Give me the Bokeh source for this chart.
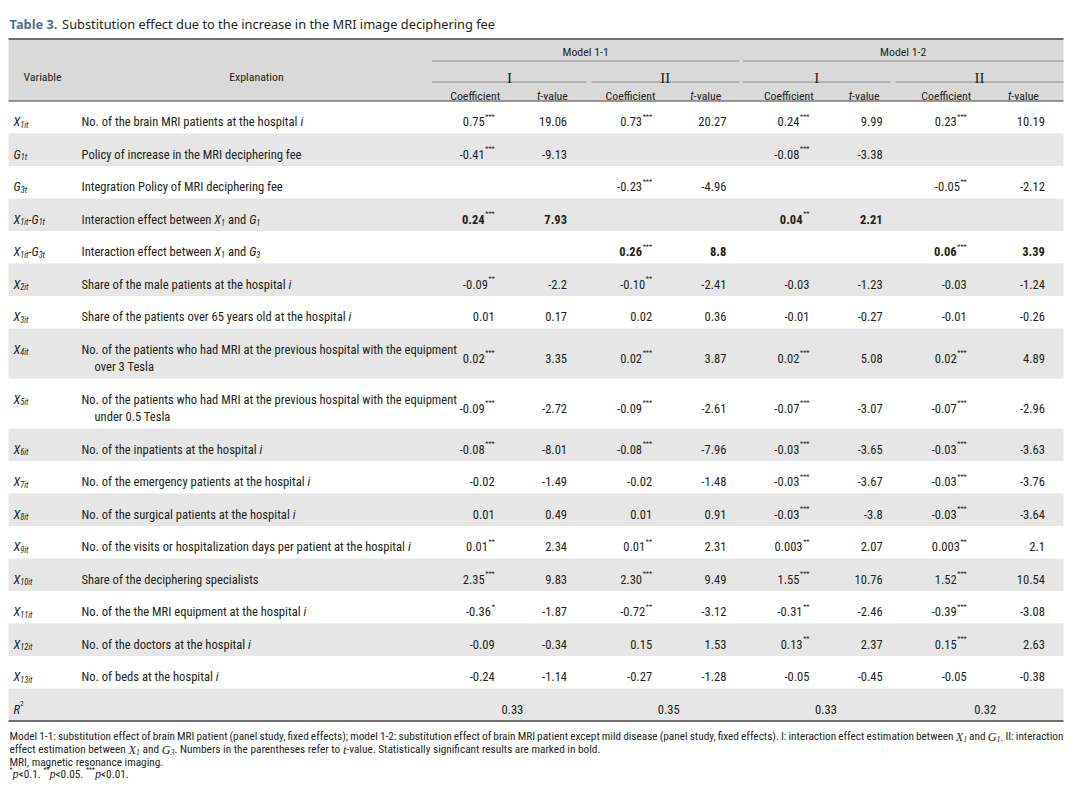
import glob
import os
from collections import OrderedDict
from bokeh.plotting import figure
from bokeh.models import Range1d, ColumnDataSource
from bokeh.core.properties import value
from bokeh.embed import file_html
from bokeh.resources import INLINE

# ---------------------------------------------------------------- data
title_label = "Table 3."
title_text = "Substitution effect due to the increase in the MRI image deciphering fee"

model_names = ["Model 1-1", "Model 1-2"]
spec_names = ["I", "II", "I", "II"]
stat_names = ["Coefficient", "i:t|-value"]
head_variable = "Variable"
head_explanation = "Explanation"

# markup: pieces split by "|" ; i: italic, s: italic subscript, p: superscript, r/q: serif italic / its subscript
variables = [
    "i:X|s:1it", "i:G|s:1t", "i:G|s:3t", "i:X|s:1it|i:-|i:G|s:1t", "i:X|s:1it|i:-|i:G|s:3t",
    "i:X|s:2it", "i:X|s:3it", "i:X|s:4it", "i:X|s:5it", "i:X|s:6it", "i:X|s:7it",
    "i:X|s:8it", "i:X|s:9it", "i:X|s:10it", "i:X|s:11it", "i:X|s:12it", "i:X|s:13it",
    "i:R|p:2",
]
explanations = [
    ["No. of the brain MRI patients at the hospital |i:i"],
    ["Policy of increase in the MRI deciphering fee"],
    ["Integration Policy of MRI deciphering fee"],
    ["Interaction effect between |i:X|s:1| and |i:G|s:1"],
    ["Interaction effect between |i:X|s:1| and |i:G|s:3"],
    ["Share of the male patients at the hospital |i:i"],
    ["Share of the patients over 65 years old at the hospital |i:i"],
    ["No. of the patients who had MRI at the previous hospital with the equipment", "over 3 Tesla"],
    ["No. of the patients who had MRI at the previous hospital with the equipment", "under 0.5 Tesla"],
    ["No. of the inpatients at the hospital |i:i"],
    ["No. of the emergency patients at the hospital |i:i"],
    ["No. of the surgical patients at the hospital |i:i"],
    ["No. of the visits or hospitalization days per patient at the hospital |i:i"],
    ["Share of the deciphering specialists"],
    ["No. of the the MRI equipment at the hospital |i:i"],
    ["No. of the doctors at the hospital |i:i"],
    ["No. of beds at the hospital |i:i"],
    [""],
]

coef_11_I = ["0.75", "-0.41", "", "0.24", "", "-0.09", "0.01", "0.02", "-0.09", "-0.08", "-0.02", "0.01", "0.01", "2.35", "-0.36", "-0.09", "-0.24"]
sig_11_I = [3, 3, 0, 3, 0, 2, 0, 3, 3, 3, 0, 0, 2, 3, 1, 0, 0]
t_11_I = ["19.06", "-9.13", "", "7.93", "", "-2.2", "0.17", "3.35", "-2.72", "-8.01", "-1.49", "0.49", "2.34", "9.83", "-1.87", "-0.34", "-1.14"]

coef_11_II = ["0.73", "", "-0.23", "", "0.26", "-0.10", "0.02", "0.02", "-0.09", "-0.08", "-0.02", "0.01", "0.01", "2.30", "-0.72", "0.15", "-0.27"]
sig_11_II = [3, 0, 3, 0, 3, 2, 0, 3, 3, 3, 0, 0, 2, 3, 2, 0, 0]
t_11_II = ["20.27", "", "-4.96", "", "8.8", "-2.41", "0.36", "3.87", "-2.61", "-7.96", "-1.48", "0.91", "2.31", "9.49", "-3.12", "1.53", "-1.28"]

coef_12_I = ["0.24", "-0.08", "", "0.04", "", "-0.03", "-0.01", "0.02", "-0.07", "-0.03", "-0.03", "-0.03", "0.003", "1.55", "-0.31", "0.13", "-0.05"]
sig_12_I = [3, 3, 0, 2, 0, 0, 0, 3, 3, 3, 3, 3, 2, 3, 2, 2, 0]
t_12_I = ["9.99", "-3.38", "", "2.21", "", "-1.23", "-0.27", "5.08", "-3.07", "-3.65", "-3.67", "-3.8", "2.07", "10.76", "-2.46", "2.37", "-0.45"]

coef_12_II = ["0.23", "", "-0.05", "", "0.06", "-0.03", "-0.01", "0.02", "-0.07", "-0.03", "-0.03", "-0.03", "0.003", "1.52", "-0.39", "0.15", "-0.05"]
sig_12_II = [3, 0, 2, 0, 3, 0, 0, 3, 3, 3, 3, 3, 2, 3, 3, 3, 0]
t_12_II = ["10.19", "", "-2.12", "", "3.39", "-1.24", "-0.26", "4.89", "-2.96", "-3.63", "-3.76", "-3.64", "2.1", "10.54", "-3.08", "2.63", "-0.38"]

bold_rows = [3, 4]
r_squared = ["0.33", "0.35", "0.33", "0.32"]

notes = [
    "Model 1-1: substitution effect of brain MRI patient (panel study, fixed effects); model 1-2: substitution effect of brain MRI patient except mild disease (panel study, fixed effects). I: interaction effect estimation between |r:X|q:1| and |r:G|q:1|. II: interaction",
    "effect estimation between |r:X|q:1| and |r:G|q:3|. Numbers in the parentheses refer to |r:t|-value. Statistically significant results are marked in bold.",
    "MRI, magnetic resonance imaging.",
    "p:*|r:p|<0.1. |p:**|r:p|<0.05. |p:***|r:p|<0.01.",
]

# ---------------------------------------------------------------- fonts / measuring
FONT_INDEX = {}
for d in ["/usr/share/fonts", "/usr/local/share/fonts",
          os.path.expanduser("~/.fonts"), os.path.expanduser("~/.local/share/fonts")]:
    for f in glob.glob(os.path.join(d, "**", "*"), recursive=True):
        b = os.path.basename(f)
        if b.lower().endswith((".ttf", ".otf")):
            FONT_INDEX.setdefault(b, f)


def ff(*names):
    for n in names:
        if n in FONT_INDEX:
            return FONT_INDEX[n]
    return None


SANS = "Roboto Condensed"
SERIF = "Liberation Serif"
TITLE_FONT = "Noto Sans"
FILES = {
    SANS: {"normal": ff("RobotoCondensed-Regular.ttf", "RobotoCondensed[wght].ttf"),
           "italic": ff("RobotoCondensed-Italic.ttf", "RobotoCondensed-Italic[wght].ttf"),
           "bold": ff("RobotoCondensed-Bold.ttf"),
           "bold italic": ff("RobotoCondensed-BoldItalic.ttf")},
    SERIF: {"normal": ff("LiberationSerif-Regular.ttf"), "italic": ff("LiberationSerif-Italic.ttf")},
    TITLE_FONT: {"normal": ff("NotoSans-Regular.ttf", "NotoSans[wdth,wght].ttf"),
                 "bold": ff("NotoSans-Bold.ttf")},
}

try:
    from PIL import ImageFont
except Exception:
    ImageFont = None

_cache = {}


def measure(text, size, family, style):
    if not text:
        return 0.0
    files = FILES.get(family, {})
    path = files.get(style)
    factor = 1.0
    if not path:
        path = files.get("normal")
        if "bold" in style:
            factor = 1.06
    if ImageFont is not None and path:
        if path not in _cache:
            _cache[path] = ImageFont.truetype(path, 100)
        return _cache[path].getlength(text) * size / 100.0 * factor
    return len(text) * size * 0.45 * factor


# ---------------------------------------------------------------- figure
W, H = 1064, 780
p = figure(width=W, height=H, x_range=Range1d(0, W), y_range=Range1d(H, 0),
           output_backend="svg", toolbar_location=None, min_border=0)
p.xaxis.visible = False
p.yaxis.visible = False
p.xgrid.visible = False
p.ygrid.visible = False
p.outline_line_color = None
p.background_fill_color = "white"
p.border_fill_color = "white"

TXT = "#231f20"
HEAD_BG = "#d9d9d9"
STRIPE = "#e6e6e6"


def fx(x):
    # the right part of the table is squeezed slightly so that it fits the frame
    return x if x <= 420 else 420 + (x - 420) * 0.9772


T = []


def put(x, y, text, size, style="normal", font=None, color=TXT):
    font = font or SANS
    core = text.lstrip(" ")
    if len(core) < len(text):
        x += measure(text[:len(text) - len(core)], size, font, style)
    core = core.rstrip(" ")
    if core:
        T.append((x, y, core, round(size, 2), style, font, color))


def parse(markup):
    segs = []
    for piece in markup.split("|"):
        if len(piece) >= 2 and piece[1] == ":" and piece[0] in "nispbrq":
            segs.append((piece[0], piece[2:]))
        else:
            segs.append(("n", piece))
    return segs


def seg_props(kind, size, bold):
    b = "bold" if bold else "normal"
    if kind == "n":
        return size, b, SANS, 0.0
    if kind == "i":
        return size, ("bold italic" if bold else "italic"), SANS, 0.0
    if kind == "s":
        return size * 0.66, "italic", SANS, size * 0.22
    if kind == "p":
        return size * 0.62, "normal", SANS, -size * 0.42
    if kind == "r":
        return size * 1.08, "italic", SERIF, 0.0
    if kind == "q":
        return size * 0.7, "italic", SERIF, size * 0.2
    return size, b, SANS, 0.0


def seg_width(segs, size, bold=False):
    tot = 0.0
    for kind, txt in segs:
        s, st, f, _ = seg_props(kind, size, bold)
        tot += measure(txt, s, f, st)
    return tot


def draw_segs(segs, x, base, size, bold=False, color=TXT):
    for kind, txt in segs:
        s, st, f, dy = seg_props(kind, size, bold)
        put(x, base + dy, txt, s, st, f, color)
        x += measure(txt, s, f, st)
    return x


def rich(markup, x, base, size, bold=False, align="left", color=TXT):
    segs = parse(markup)
    w = seg_width(segs, size, bold)
    if align == "center":
        x -= w / 2
    elif align == "right":
        x -= w
    draw_segs(segs, x, base, size, bold, color)
    return w


def justified(markup, x_left, x_right, base, size):
    words = [[]]
    for kind, txt in parse(markup):
        if kind == "n":
            parts = txt.split(" ")
            for k, part in enumerate(parts):
                if k > 0:
                    words.append([])
                if part:
                    words[-1].append((kind, part))
        else:
            words[-1].append((kind, txt))
    words = [w for w in words if w]
    widths = [seg_width(w, size) for w in words]
    gap = (x_right - x_left - sum(widths)) / max(1, len(words) - 1)
    x = x_left
    for w, wd in zip(words, widths):
        draw_segs(w, x, base, size)
        x += wd + gap


def bl(center, size):
    return center + 0.36 * size


def fit(text, target, family=SANS, style="normal", lo=9.0, hi=15.0):
    w = measure(text, 10.0, family, style)
    if w <= 0:
        return (lo + hi) / 2
    return max(lo, min(hi, 10.0 * target / w))


# ---------------------------------------------------------------- layout constants (reference pixels)
TR = 1078
HEAD_TOP, HEAD_BOT = 38.5, 100.5
RULE1_Y, RULE2_Y = 60.5, 81.5
model_spans = [(432, 746), (750, 1078)]
spec_spans = [(432, 590), (595, 746), (750, 901), (906, 1078)]
coef_right = [496, 657, 818, 979]
t_right = [570, 733, 893, 1059]
coef_head_c = [476, 635, 797, 958]
t_head_c = [555, 712, 874, 1037]
r2_center = [514, 674, 835, 998]

BODY = fit("No. of the brain MRI patients at the hospital", 216)
HEADF = fit("Coefficient", 50)
SUP = BODY * 0.58
NS = fit("MRI, magnetic resonance imaging.", 154)

# title
TS = fit(title_text, 433, TITLE_FONT, "normal", 10, 15)
put(9, bl(18.5, TS), title_label, TS, "bold", TITLE_FONT, "#4d7092")
put(9 + measure(title_label, TS, TITLE_FONT, "bold") + 4, bl(18.5, TS), title_text, TS, "normal", TITLE_FONT, TXT)

# header background
p.quad(left=[8], right=[fx(TR)], top=[HEAD_TOP], bottom=[HEAD_BOT], fill_color=HEAD_BG, line_color=None)

# body rows
row_h = [32.5 if len(e) == 1 else 50.0 for e in explanations]
tops = []
yy = HEAD_BOT
for h in row_h:
    tops.append(yy)
    yy += h
BODY_BOT = yy
g_left, g_right, g_top, g_bot = [], [], [], []
for i, (t0, h) in enumerate(zip(tops, row_h)):
    if i % 2 == 1:
        g_left.append(8)
        g_right.append(fx(TR))
        g_top.append(t0)
        g_bot.append(t0 + h)
p.quad(left=g_left, right=g_right, top=g_top, bottom=g_bot, fill_color=STRIPE, line_color=None)

S = dict(x0=[], y0=[], x1=[], y1=[], w=[], c=[])


def hline(x0, x1, y, w, c):
    S["x0"].append(x0)
    S["x1"].append(x1)
    S["y0"].append(y)
    S["y1"].append(y)
    S["w"].append(w)
    S["c"].append(c)


hline(8, fx(TR), HEAD_TOP, 2.0, "#6e6e6e")
for a, b in model_spans:
    hline(fx(a), fx(b), RULE1_Y, 1.0, "#8c8c8c")
for a, b in spec_spans:
    hline(fx(a), fx(b), RULE2_Y, 1.0, "#8c8c8c")
hline(8, fx(TR), HEAD_BOT, 1.5, "#7a7a7a")
hline(8, fx(TR), BODY_BOT, 2.0, "#6e6e6e")
p.segment(x0="x0", y0="y0", x1="x1", y1="y1", line_width="w", line_color="c", source=ColumnDataSource(S))

# header texts
rich(head_variable, 23, bl(72, HEADF), HEADF)
rich(head_explanation, 256, bl(72, HEADF), HEADF, align="center")
for (a, b), name in zip(model_spans, model_names):
    rich(name, fx((a + b) / 2), bl(47, HEADF), HEADF, align="center")
RS = 15.0
for (a, b), name in zip(spec_spans, spec_names):
    w = measure(name, RS, SERIF, "normal")
    put(fx((a + b) / 2) - w / 2, bl(72.5, RS), name, RS, "normal", SERIF)
for k in range(4):
    rich(stat_names[0], fx(coef_head_c[k]), bl(91.5, HEADF), HEADF, align="center")
    rich(stat_names[1], fx(t_head_c[k]), bl(91.5, HEADF), HEADF, align="center")

# body texts
coefs = [coef_11_I, coef_11_II, coef_12_I, coef_12_II]
sigs = [sig_11_I, sig_11_II, sig_12_I, sig_12_II]
tvals = [t_11_I, t_11_II, t_12_I, t_12_II]

for i, (t0, h) in enumerate(zip(tops, row_h)):
    c = t0 + h / 2
    lines = explanations[i]
    line_c = [c] if len(lines) == 1 else [c - 8.5, c + 8.5]
    rich(variables[i], 13, bl(line_c[0], BODY), BODY)
    for k, ln in enumerate(lines):
        rich(ln, 81 if k == 0 else 94, bl(line_c[k], BODY), BODY)
    bold = i in bold_rows
    st = "bold" if bold else "normal"
    if i < len(coef_11_I):
        for m in range(4):
            cv = coefs[m][i]
            if cv:
                n = sigs[m][i]
                stars = "*" * n
                sw = measure(stars, SUP, SANS, "normal")
                nw = measure(cv, BODY, SANS, st)
                left = fx(coef_right[m]) - sw - (0.6 if n else 0) - nw
                put(left, bl(c, BODY), cv, BODY, st)
                if n:
                    put(left + nw + 0.6, bl(c, BODY) - BODY * 0.42, stars, SUP, "normal")
            tv = tvals[m][i]
            if tv:
                put(fx(t_right[m]) - measure(tv, BODY, SANS, st), bl(c, BODY), tv, BODY, st)
    else:
        for m in range(4):
            rich(r_squared[m], fx(r2_center[m]), bl(c, BODY), BODY, align="center")

# notes (kept inside the frame)
note_c = [732, 745, 758, 769.5]
justified(notes[0], 9, fx(TR), bl(note_c[0], NS), NS)
for k in range(1, 4):
    rich(notes[k], 9, bl(note_c[k], NS), NS)

# ---------------------------------------------------------------- draw texts, one glyph call per font setting
groups = OrderedDict()
for x, y, text, size, style, font, color in T:
    g = groups.setdefault((size, style, font, color), dict(x=[], y=[], text=[]))
    g["x"].append(x)
    g["y"].append(y)
    g["text"].append(text)
for (size, style, font, color), g in groups.items():
    p.text(x="x", y="y", text="text", source=ColumnDataSource(g),
           text_font=value(font), text_font_size=value("%.2fpx" % size), text_font_style=style,
           text_color=color, text_baseline="alphabetic", text_align="left")

open("out.html", "w").write(file_html(p, INLINE))
